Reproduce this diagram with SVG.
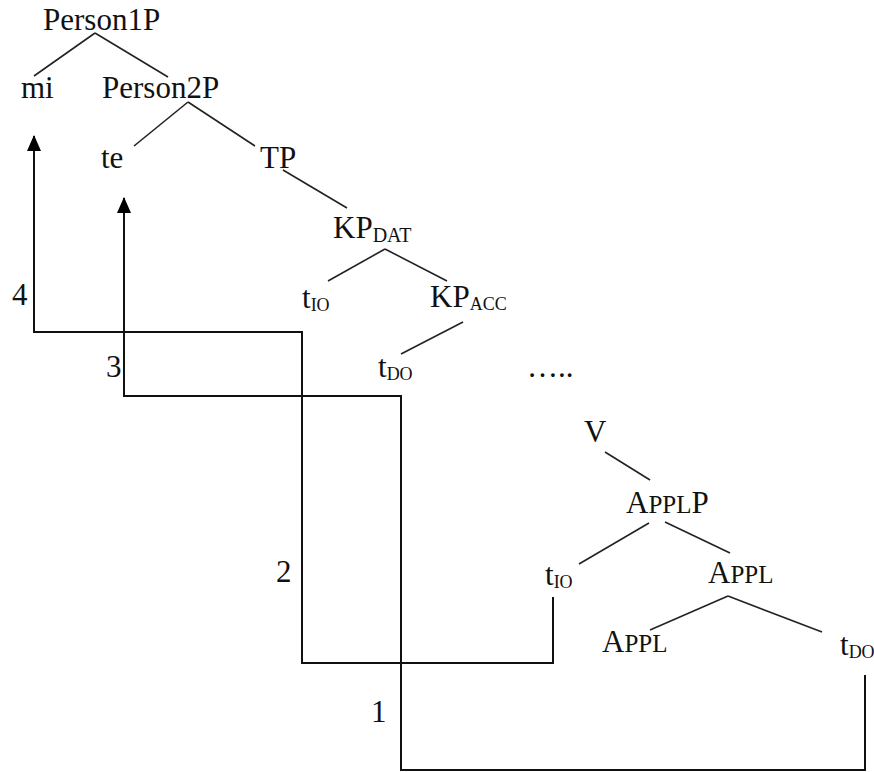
<svg xmlns="http://www.w3.org/2000/svg" width="874" height="772" viewBox="0 0 874 772">
<style>
text { font-family: "Liberation Serif", "Times New Roman", serif; font-size: 31px; fill: #111; }
.sub { font-size: 18px; }
.sub20 { font-size: 20px; }
.sc { font-size: 25px; }
.tree line { stroke: #222; stroke-width: 1.6; }
.mv { fill: none; stroke: #111; stroke-width: 2; }
</style>
<defs>
<marker id="ah" markerUnits="userSpaceOnUse" markerWidth="16" markerHeight="14" viewBox="0 0 16 14" refX="15" refY="7" orient="auto">
<path d="M16,7 L0,0 L0,14 Z" fill="#000"/>
</marker>
</defs>
<rect width="874" height="772" fill="#fff"/>
<g id="connectors">
<g class="tree">
<line x1="95" y1="33" x2="34" y2="76"/>
<line x1="95" y1="33" x2="168" y2="77"/>
<line x1="188" y1="102" x2="134" y2="146"/>
<line x1="188" y1="102" x2="255" y2="146"/>
<line x1="283" y1="170" x2="347" y2="208"/>
<line x1="385" y1="249" x2="328" y2="281"/>
<line x1="385" y1="249" x2="447" y2="281"/>
<line x1="463" y1="322" x2="401" y2="354"/>
<line x1="605" y1="452" x2="650" y2="480"/>
<line x1="649" y1="523" x2="579" y2="564"/>
<line x1="665" y1="522" x2="730" y2="553"/>
<line x1="728" y1="596" x2="650" y2="630"/>
<line x1="728" y1="596" x2="822" y2="632"/>
</g>
<path id="move-io" class="mv" d="M553,597 V663 H302 V332 H34 V136" marker-end="url(#ah)"/>
<path id="move-do" class="mv" d="M865,675 V770 H401 V396 H124 V198" marker-end="url(#ah)"/>
<g id="step-labels">
<text x="12" y="305">4</text>
<text x="106" y="377">3</text>
<text x="276" y="582">2</text>
<text x="371" y="722">1</text>
</g>
</g>
<g id="n-person1p"><text x="43" y="30">Person1P</text></g>
<g id="n-mi"><text x="21" y="98">mi</text></g>
<g id="n-person2p"><text x="102" y="98">Person2P</text></g>
<g id="n-te"><text x="101" y="168">te</text></g>
<g id="n-tp"><text x="260" y="168">TP</text></g>
<g id="n-kpdat"><text x="333" y="238">KP<tspan class="sub20" dy="4">DAT</tspan></text></g>
<g id="n-tio1"><text x="302" y="308">t<tspan class="sub" dy="3">IO</tspan></text></g>
<g id="n-kpacc"><text x="430" y="307">KP<tspan class="sub" dy="3">ACC</tspan></text></g>
<g id="n-tdo1"><text x="378" y="377">t<tspan class="sub" dy="3">DO</tspan></text></g>
<g id="n-dots"><text x="527" y="377">…..</text></g>
<g id="n-v"><text x="584" y="442">V</text></g>
<g id="n-applp"><text x="626" y="513">A<tspan class="sc">PPL</tspan>P</text></g>
<g id="n-tio2"><text x="545" y="585">t<tspan class="sub" dy="3">IO</tspan></text></g>
<g id="n-appl1"><text x="708" y="583">A<tspan class="sc">PPL</tspan></text></g>
<g id="n-appl2"><text x="602" y="652">A<tspan class="sc">PPL</tspan></text></g>
<g id="n-tdo2"><text x="840" y="655">t<tspan class="sub" dy="3">DO</tspan></text></g>
</svg>
